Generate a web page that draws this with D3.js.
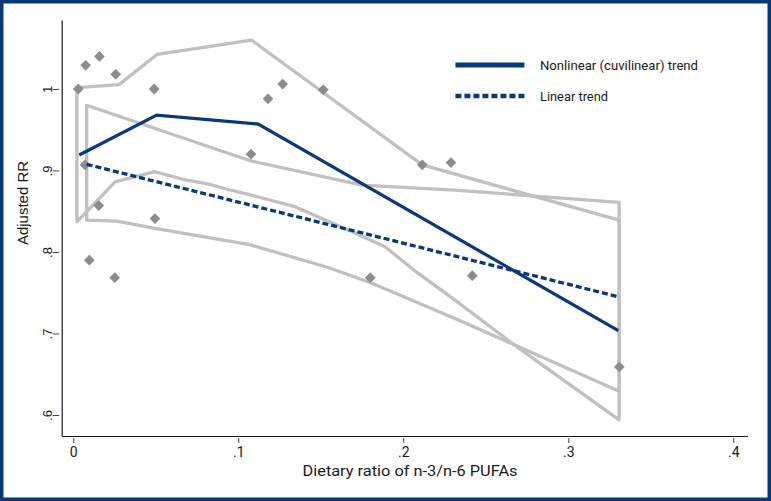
<!DOCTYPE html>
<html>
<head>
<meta charset="utf-8">
<script src="https://cdn.jsdelivr.net/npm/d3@7/dist/d3.min.js"></script>
<style>
  html, body { margin: 0; padding: 0; background: #fff; }
  svg { display: block; }
</style>
</head>
<body>
<div id="chart"></div>
<script>
// ---------- data ----------
const pointX = [0.003, 0.0075, 0.0158, 0.0257, 0.049, 0.0071, 0.0154, 0.0097, 0.0251, 0.0495,
                0.1077, 0.118, 0.1269, 0.1515, 0.18, 0.2115, 0.2289, 0.2418, 0.3309];
const pointY = [1.0, 1.029, 1.04, 1.018, 1.0, 0.907, 0.857, 0.790, 0.7685, 0.841,
                0.92, 0.988, 1.006, 0.999, 0.7685, 0.907, 0.9096, 0.771, 0.659];

const nonlinX = [0.0036, 0.0505, 0.1121, 0.3303];
const nonlinY = [0.919, 0.968, 0.957, 0.7035];

const linX = [0.0081, 0.3305];
const linY = [0.9076, 0.745];

// nonlinear CI band
const nlUpperX = [0.0022, 0.0277, 0.0509, 0.108, 0.2115, 0.3308];
const nlUpperY = [1.0016, 1.0054, 1.0426, 1.060, 0.907, 0.839];
const nlLowerX = [0.0022, 0.0253, 0.0495, 0.0665, 0.0828, 0.093, 0.1074, 0.1343, 0.171, 0.1889, 0.2089, 0.2313, 0.2687, 0.3308];
const nlLowerY = [0.837, 0.886, 0.8985, 0.889, 0.883, 0.877, 0.870, 0.8556, 0.823, 0.8065, 0.774, 0.741, 0.684, 0.594];

// linear CI band
const lUpperX = [0.0081, 0.1077, 0.175, 0.231, 0.3308];
const lUpperY = [0.980, 0.9117, 0.882, 0.876, 0.861];
const lLowerX = [0.0081, 0.0263, 0.0495, 0.107, 0.1545, 0.181, 0.231, 0.3308];
const lLowerY = [0.839, 0.838, 0.829, 0.809, 0.781, 0.7616, 0.7187, 0.629];

const xTickValues = [0, 0.1, 0.2, 0.3, 0.4];
const xTickLabels = ["0", ".1", ".2", ".3", ".4"];
const yTickValues = [0.6, 0.7, 0.8, 0.9, 1.0];
const yTickLabels = [".6", ".7", ".8", ".9", "1"];

const legendLabels = ["Nonlinear (cuvilinear) trend", "Linear trend"];
const xTitle = "Dietary ratio of n-3/n-6 PUFAs";
const yTitle = "Adjusted RR";

// ---------- layout ----------
const W = 771, H = 501;
const navy = "#0a3879";
const frame = "#0b3976";
const grayLine = "#c0c0c2";
const diamond = "#8c8c8e";

const svg = d3.select("#chart").append("svg").attr("width", W).attr("height", H);

svg.append("rect").attr("x", 0).attr("y", 0).attr("width", W).attr("height", H).attr("fill", "#fff");

const x = d3.scaleLinear().domain([-0.00703, 0.4086]).range([61.7, 747.5]);
const y = d3.scaleLinear().domain([0.57423, 1.08466]).range([436, 20]);

const zip = (xs, ys) => xs.map((v, i) => [v, ys[i]]);
const line = d3.line().x(d => x(d[0])).y(d => y(d[1]));

// CI band outlines (closed)
function band(ux, uy, lx, ly) {
  const pts = zip(ux, uy).concat(zip(lx, ly).reverse());
  return line(pts) + "Z";
}
svg.append("path").attr("d", band(lUpperX, lUpperY, lLowerX, lLowerY))
  .attr("fill", "none").attr("stroke", grayLine).attr("stroke-width", 3.3).attr("stroke-linejoin", "round");
svg.append("path").attr("d", band(nlUpperX, nlUpperY, nlLowerX, nlLowerY))
  .attr("fill", "none").attr("stroke", grayLine).attr("stroke-width", 3.3).attr("stroke-linejoin", "round");

// points
svg.append("g").selectAll("path").data(zip(pointX, pointY)).join("path")
  .attr("d", d3.symbol(d3.symbolSquare, 58)())
  .attr("transform", d => `translate(${x(d[0])},${y(d[1])}) rotate(45)`)
  .attr("fill", diamond);

// trend lines
svg.append("path").attr("d", line(zip(nonlinX, nonlinY)))
  .attr("fill", "none").attr("stroke", navy).attr("stroke-width", 3.2);
svg.append("path").attr("d", line(zip(linX, linY)))
  .attr("fill", "none").attr("stroke", navy).attr("stroke-width", 3.3).attr("stroke-dasharray", "6,3");

// axes
const xAxis = d3.axisBottom(x).tickValues(xTickValues).tickFormat((d, i) => xTickLabels[i]).tickSizeOuter(0);
const gx = svg.append("g").attr("transform", "translate(0,436)").call(xAxis);
gx.select(".domain").attr("stroke", "#1a1a1a").attr("stroke-width", 1.2);
gx.selectAll(".tick line").attr("y1", 2).attr("y2", 7).attr("stroke", "#444").attr("stroke-width", 1);
gx.selectAll(".tick text").attr("y", 21).attr("dy", 0)
  .attr("font-family", "Roboto, 'Open Sans', sans-serif").attr("font-size", 14).attr("fill", "#1a1a1a");

const yAxis = d3.axisLeft(y).tickValues(yTickValues).tickFormat((d, i) => yTickLabels[i]).tickSizeOuter(0);
const gy = svg.append("g").attr("transform", "translate(61.7,0)").call(yAxis);
gy.select(".domain").attr("stroke", "#1a1a1a").attr("stroke-width", 1.2);
gy.selectAll(".tick line").attr("x1", -2.5).attr("x2", -9).attr("stroke", "#444").attr("stroke-width", 1);
gy.selectAll(".tick text")
  .attr("x", 0).attr("dy", 0)
  .attr("transform", "translate(-10,0) rotate(-90)")
  .attr("text-anchor", "middle")
  .attr("font-family", "'Liberation Sans', Arial, sans-serif").attr("font-size", 13).attr("fill", "#1a1a1a");

// axis titles
svg.append("text").attr("x", 410).attr("y", 476).attr("text-anchor", "middle")
  .attr("font-family", "Roboto, 'Open Sans', sans-serif").attr("font-size", 15).attr("fill", "#1a1a1a")
  .attr("textLength", 215).attr("lengthAdjust", "spacingAndGlyphs")
  .text(xTitle);
svg.append("text").attr("transform", "translate(28,203) rotate(-90)").attr("text-anchor", "middle")
  .attr("font-family", "'Liberation Sans', Arial, sans-serif").attr("font-size", 15).attr("fill", "#1a1a1a")
  .text(yTitle);

// legend
const lg = svg.append("g");
lg.append("line").attr("x1", x(0.2316)).attr("x2", x(0.2734)).attr("y1", 65).attr("y2", 65)
  .attr("stroke", navy).attr("stroke-width", 5);
lg.append("line").attr("x1", x(0.2316)).attr("x2", x(0.2745)).attr("y1", 96).attr("y2", 96)
  .attr("stroke", navy).attr("stroke-width", 4.3).attr("stroke-dasharray", "6,3");
lg.append("text").attr("x", 540).attr("y", 69.5)
  .attr("font-family", "Roboto, 'Open Sans', sans-serif").attr("font-size", 13.5).attr("fill", "#1a1a1a")
  .attr("textLength", 158).attr("lengthAdjust", "spacingAndGlyphs")
  .text(legendLabels[0]);
lg.append("text").attr("x", 540).attr("y", 100.5)
  .attr("font-family", "Roboto, 'Open Sans', sans-serif").attr("font-size", 13.5).attr("fill", "#1a1a1a")
  .attr("textLength", 68).attr("lengthAdjust", "spacingAndGlyphs")
  .text(legendLabels[1]);

// frame
svg.append("rect").attr("x", 1.75).attr("y", 1.75).attr("width", W - 3.5).attr("height", H - 3.5)
  .attr("fill", "none").attr("stroke", frame).attr("stroke-width", 3.5);
</script>
</body>
</html>
